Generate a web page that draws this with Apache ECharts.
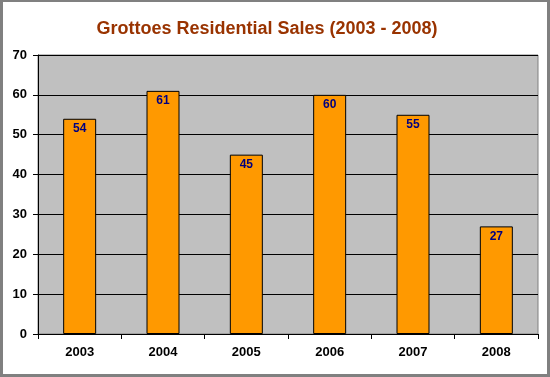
<!DOCTYPE html>
<html>
<head>
<meta charset="utf-8">
<script src="https://cdn.jsdelivr.net/npm/echarts@6/dist/echarts.min.js"></script>
<style>
  html, body { margin: 0; padding: 0; background: #fff; }
  #chart { width: 550px; height: 377px; }
</style>
</head>
<body>
<div id="chart"></div>
<script>
// data
const years = ['2003', '2004', '2005', '2006', '2007', '2008']
const sales = [54, 61, 45, 60, 55, 27]

const chart = echarts.init(document.getElementById('chart'))
const font = 'Liberation Sans, Arial, sans-serif'

chart.setOption({
  animation: false,
  title: {
    text: 'Grottoes Residential Sales (2003 - 2008)',
    left: 262,
    textAlign: 'center',
    top: 15,
    textStyle: { color: '#993300', fontSize: 18, fontWeight: 'bold', fontFamily: font }
  },
  graphic: [
    // outer frame
    { type: 'rect', shape: { x: 0, y: 0, width: 550, height: 2 }, style: { fill: '#808080' } },
    { type: 'rect', shape: { x: 0, y: 0, width: 3, height: 377 }, style: { fill: '#808080' } },
    { type: 'rect', shape: { x: 547, y: 0, width: 3, height: 377 }, style: { fill: '#808080' } },
    { type: 'rect', shape: { x: 0, y: 374, width: 550, height: 3 }, style: { fill: '#808080' } }
  ],
  grid: {
    left: 38, right: 12, top: 55, bottom: 43,
    show: true,
    backgroundColor: '#C0C0C0',
    borderColor: '#808080',
    borderWidth: 1
  },
  xAxis: {
    type: 'category',
    data: years,
    axisLine: { lineStyle: { color: '#000', width: 1 } },
    axisTick: { show: true, length: 5, alignWithLabel: false, lineStyle: { color: '#000' } },
    axisLabel: { color: '#000', fontWeight: 'bold', fontSize: 13, fontFamily: font, margin: 12 }
  },
  yAxis: {
    type: 'value',
    min: 0, max: 70, interval: 10,
    axisLine: { show: true, lineStyle: { color: '#000', width: 1 } },
    axisTick: { show: true, length: 5, lineStyle: { color: '#000' } },
    axisLabel: { color: '#000', fontWeight: 'bold', fontSize: 13, fontFamily: font, margin: 11 },
    splitLine: { lineStyle: { color: '#000', width: 1 } }
  },
  series: [{
    type: 'bar',
    data: sales,
    barWidth: 33,
    itemStyle: { color: '#FF9900', borderColor: '#000', borderWidth: 1 },
    label: {
      show: true,
      position: 'insideTop',
      distance: 4,
      color: '#000080',
      fontWeight: 'bold',
      fontSize: 12,
      fontFamily: font
    }
  }]
})
</script>
</body>
</html>
